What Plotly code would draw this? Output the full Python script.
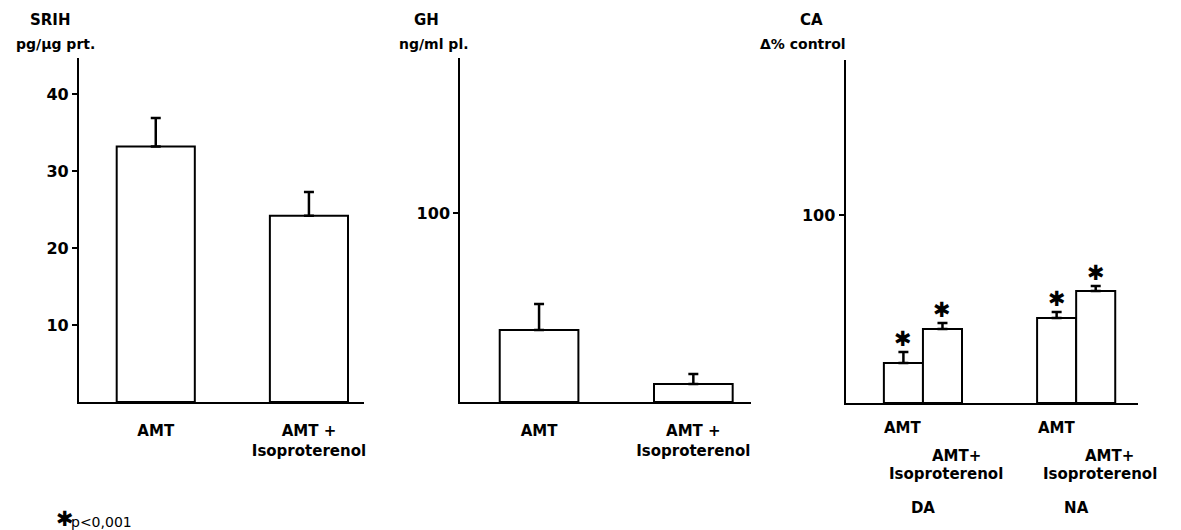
import plotly.graph_objects as go

W, H = 1181, 530

# Hypothalamic SRIH content (pg/ug protein)
srih_groups = ["AMT", "AMT + Isoproterenol"]
srih_mean = [33.2, 24.2]
srih_sem = [3.7, 3.1]

# Plasma GH (ng/ml)
gh_groups = ["AMT", "AMT + Isoproterenol"]
gh_mean = [38.1, 9.5]
gh_sem = [13.8, 5.3]

# Catecholamines, % of control
ca_amines = ["DA", "NA"]
ca_amt_mean = [21.3, 45.2]
ca_amt_sem = [5.8, 3.2]
ca_iso_mean = [39.4, 59.6]
ca_iso_sem = [3.2, 2.6]

pair_ticktext = ["AMT", "AMT +<br>Isoproterenol"]

FONT = "DejaVu Sans"
BLACK = "black"


def px(x):
    return x / W


def py(y):
    return 1 - y / H


def bar_style():
    return dict(color="white", line=dict(color=BLACK, width=2))


def err(sem):
    return dict(type="data", symmetric=False, array=sem, arrayminus=[0] * len(sem),
                color=BLACK, thickness=2.5, width=5)


fig = go.Figure()

fig.add_trace(go.Bar(x=srih_groups, y=srih_mean, error_y=err(srih_sem),
                     marker=bar_style(), xaxis="x", yaxis="y", showlegend=False))
fig.add_trace(go.Bar(x=gh_groups, y=gh_mean, error_y=err(gh_sem),
                     marker=bar_style(), xaxis="x2", yaxis="y2", showlegend=False))
fig.add_trace(go.Bar(x=ca_amines, y=ca_amt_mean, error_y=err(ca_amt_sem),
                     marker=bar_style(), xaxis="x3", yaxis="y3", showlegend=False))
fig.add_trace(go.Bar(x=ca_amines, y=ca_iso_mean, error_y=err(ca_iso_sem),
                     marker=bar_style(), xaxis="x3", yaxis="y3", showlegend=False))

tickfont = dict(family=FONT, size=15, color=BLACK, weight="bold")
ytickfont = dict(family=FONT, size=16, color=BLACK, weight="bold")


def xaxis(domain, rng, anchor, tickvals, ticktext, standoff):
    return dict(domain=domain, range=rng, anchor=anchor, type="category",
                showline=True, linecolor=BLACK, linewidth=2, ticks="",
                showgrid=False, zeroline=False, tickfont=tickfont,
                tickvals=tickvals, ticktext=ticktext, ticklabelstandoff=standoff)


def yaxis(domain, rng, anchor, tickvals):
    return dict(domain=domain, range=rng, anchor=anchor, showline=True,
                linecolor=BLACK, linewidth=2, ticks="outside", ticklen=5,
                tickwidth=2, tickcolor=BLACK, tickvals=tickvals,
                showgrid=False, zeroline=False, tickfont=ytickfont,
                ticklabelstandoff=0)


annotations = []


def text(x, y, s, size=15, bold=True, xanchor="center"):
    annotations.append(dict(xref="paper", yref="paper", x=px(x), y=py(y), text=s,
                            showarrow=False, xanchor=xanchor, yanchor="middle",
                            font=dict(family=FONT, size=size, color=BLACK,
                                      weight="bold" if bold else "normal")))


# panel titles
text(51, 20, "SRIH", 15)
text(56, 44, "pg/µg prt.", 14)
text(427, 20, "GH", 15)
text(435, 44, "ng/ml pl.", 14)
text(813, 20, "CA", 15)
text(804, 44, "Δ% control", 14)

# significance marks over the catecholamine bars
OFF = 19.5
for means, sems, shift in ((ca_amt_mean, ca_amt_sem, -OFF), (ca_iso_mean, ca_iso_sem, OFF)):
    for amine, m, s in zip(ca_amines, means, sems):
        annotations.append(dict(xref="x3", yref="y3", x=amine, y=m + s, xshift=shift,
                                yshift=-1, text="✱", showarrow=False, yanchor="bottom",
                                font=dict(family=FONT, size=21, color=BLACK,
                                          weight="bold")))

# bar labels under the catecholamine panel
for amine in ca_amines:
    for label, shift, ypix in (("AMT", -OFF, 428), ("AMT+", OFF + 14, 456),
                               ("Isoproterenol", OFF + 4, 474)):
        annotations.append(dict(xref="x3", yref="paper", x=amine, y=py(ypix),
                                xshift=shift, text=label, showarrow=False,
                                yanchor="middle",
                                font=dict(family=FONT, size=15, color=BLACK,
                                          weight="bold")))

# footnote
text(54, 519, "✱", 21, bold=True, xanchor="left")
text(69, 522, "p&lt;0,001", 14, bold=False, xanchor="left")

fig.update_layout(
    width=W, height=H,
    margin=dict(l=0, r=0, t=0, b=0),
    paper_bgcolor="white", plot_bgcolor="white",
    bargap=0.49, bargroupgap=0, barmode="group",
    showlegend=False,
    font=dict(family=FONT, color=BLACK),
    xaxis=xaxis([px(79), px(365)], [-0.502, 1.362], "y", srih_groups, pair_ticktext, 14),
    yaxis=yaxis([py(402), py(58)], [0, 44.7], "x", [10, 20, 30, 40]),
    xaxis2=xaxis([px(461), px(752)], [-0.511, 1.372], "y2", gh_groups, pair_ticktext, 14),
    yaxis2=yaxis([py(402), py(58)], [0, 182], "x2", [100]),
    xaxis3=xaxis([px(847), px(1140)], [-0.505, 1.404], "y3", ca_amines, ca_amines, 90),
    yaxis3=yaxis([py(403), py(60)], [0, 182.4], "x3", [100]),
    annotations=annotations,
)

fig.write_html("out.html")
